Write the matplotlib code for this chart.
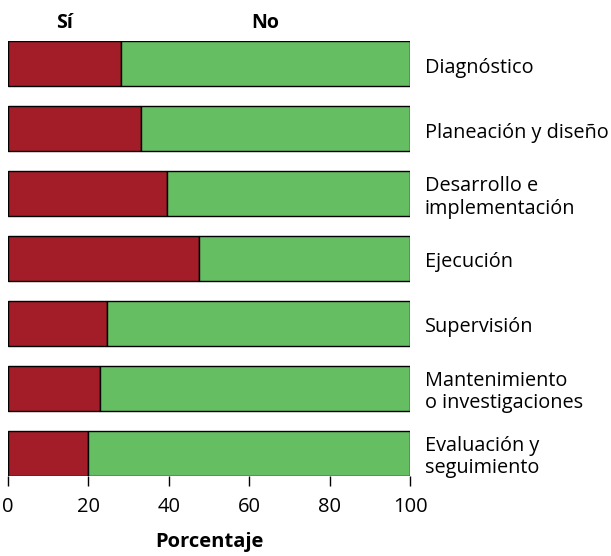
import numpy as np
import matplotlib
matplotlib.use("Agg")
import matplotlib.pyplot as plt

plt.rcParams['font.family'] = ['Open Sans', 'DejaVu Sans']

categorias = ['Diagnóstico', 'Planeación y diseño', 'Desarrollo e\nimplementación',
              'Ejecución', 'Supervisión', 'Mantenimiento\no investigaciones',
              'Evaluación y\nseguimiento']
si = [28.0, 33.0, 39.5, 47.6, 24.7, 23.0, 19.8]
no = [100 - v for v in si]
ticks = [0, 20, 40, 60, 80, 100]

rojo = '#A21D27'
verde = '#66BE63'

fig = plt.figure(figsize=(6.11, 5.56), dpi=100)
ax = fig.add_axes([8 / 611, 1 - 476 / 556, 402 / 611, 435 / 556])

y = np.arange(len(categorias))
ax.barh(y, si, height=0.7, color=rojo, edgecolor='black', linewidth=1)
ax.barh(y, no, left=si, height=0.7, color=verde, edgecolor='black', linewidth=1)

ax.set_xlim(0, 100)
ax.set_ylim(len(categorias) - 0.65, -0.35)

# etiquetas a la derecha, un poco por debajo del centro de la barra
for yi, cat in zip(y, categorias):
    ax.text(103.7, yi + 0.06, cat, ha='left', va='center', fontsize=14.3, linespacing=1.15)

# encabezados sobre la primera barra
ax.text(si[0] / 2, -0.48, 'Sí', ha='center', va='bottom', fontsize=14, fontweight='bold')
ax.text(si[0] + no[0] / 2, -0.48, 'No', ha='center', va='bottom', fontsize=14, fontweight='bold')

ax.set_xticks(ticks)
ax.set_xticklabels([str(t) for t in ticks], fontsize=14.5)
ax.tick_params(axis='x', direction='out', length=7, width=1, pad=8)
ax.set_yticks([])
for s in ['left', 'right', 'top', 'bottom']:
    ax.spines[s].set_visible(False)

ax.set_xlabel('Porcentaje', fontsize=14.5, fontweight='bold', labelpad=11)

fig.savefig('out.png', dpi=100)
